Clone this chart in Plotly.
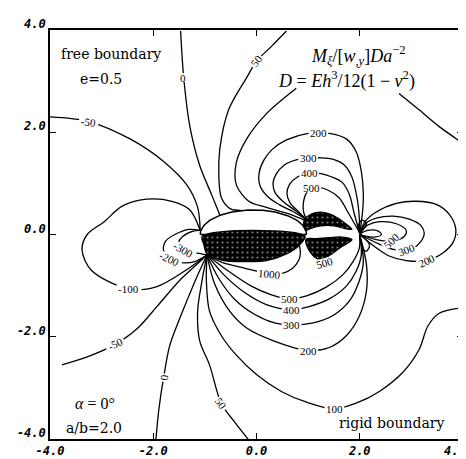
import numpy as np
import plotly.graph_objects as go

# ---------------- axes ----------------
TICK_VALS = [-4, -2, 0, 2, 4]
X_TICK_TEXT = ["-4.0", "-2.0", "0.0", "2.0", ""]
Y_TICK_TEXT = ["-4.0", "-2.0", "0.0", "2.0", "4.0"]
X_LAST_TICK = (4, "4.0")

# ---------------- hole geometry (a/b = 2) ----------------
ELLIPSE_CX = -0.06
ELLIPSE_A = 1.03
ELLIPSE_B = 0.48

L_M50_UP = [(-4.02, 2.30), (-3.25, 2.21), (-2.45, 1.87), (-1.80, 1.43), (-1.35, 0.97), (-1.14, 0.53), (-1.09, 0.08)]
L_0_UP = [(-1.47, 3.98), (-1.41, 3.07), (-1.29, 2.11), (-1.10, 1.35), (-0.87, 0.78), (-0.71, 0.38)]
L_50_UP = [(0.58, 3.98), (0.29, 3.68), (0.0, 3.39), (-0.19, 3.07), (-0.54, 2.44), (-0.71, 1.68), (-0.73, 1.16),
           (-0.68, 0.72), (-0.50, 0.50), (-0.30, 0.47)]
L_100_UP_A = [(0.77, 2.86), (0.19, 2.36), (-0.19, 1.87), (-0.39, 1.41), (-0.39, 0.97), (-0.15, 0.65), (0.19, 0.53),
              (0.64, 0.40), (0.93, 0.28)]
L_100_UP_B = [(2.76, 2.76), (3.15, 2.44), (3.54, 2.11), (4.02, 1.77)]
L_200_UP = [(0.97, 0.29), (0.72, 0.44), (0.45, 0.58), (0.22, 0.74), (0.07, 0.95), (0.05, 1.20), (0.14, 1.45),
            (0.30, 1.66), (0.58, 1.85), (1.0, 1.98), (1.41, 1.98), (1.74, 1.87), (1.93, 1.62), (2.03, 1.24),
            (2.07, 0.78), (2.05, 0.40), (2.0, 0.03)]
L_300_UP = [(0.97, 0.29), (0.75, 0.47), (0.52, 0.64), (0.36, 0.82), (0.32, 1.0), (0.38, 1.18), (0.54, 1.36),
            (0.77, 1.46), (1.0, 1.49), (1.25, 1.50), (1.49, 1.47), (1.70, 1.36), (1.85, 1.12), (1.95, 0.70),
            (1.99, 0.35), (2.0, 0.03)]
L_400_UP = [(0.97, 0.29), (0.80, 0.46), (0.65, 0.62), (0.59, 0.80), (0.64, 0.98), (0.80, 1.13), (1.02, 1.20),
            (1.25, 1.19), (1.45, 1.13), (1.66, 1.02), (1.80, 0.78), (1.89, 0.42), (2.0, 0.03)]
L_500_UP = [(0.97, 0.29), (0.91, 0.45), (0.91, 0.64), (0.96, 0.80), (1.06, 0.91), (1.20, 0.92), (1.38, 0.87),
            (1.60, 0.72), (1.78, 0.42), (2.0, 0.03)]

L_200_R = [(2.0, 0.02), (2.10, 0.25), (2.32, 0.44), (2.71, 0.61), (3.09, 0.65), (3.48, 0.59), (3.73, 0.40),
           (3.86, 0.11), (3.81, -0.15), (3.61, -0.36), (3.29, -0.51), (2.90, -0.51), (2.57, -0.42),
           (2.28, -0.23), (2.0, 0.0)]
L_300_R = [(2.0, 0.02), (2.12, 0.22), (2.32, 0.32), (2.65, 0.36), (2.96, 0.30), (3.19, 0.17), (3.25, 0.02),
           (3.19, -0.13), (3.03, -0.27), (2.90, -0.30), (2.65, -0.29), (2.38, -0.19), (2.0, 0.0)]
L_500_R = [(2.0, 0.02), (2.15, 0.18), (2.38, 0.25), (2.71, 0.21), (2.90, 0.08), (2.86, -0.04), (2.61, -0.13),
           (2.32, -0.10), (2.0, 0.0)]
L_1000_R = [(2.0, 0.01), (2.15, 0.08), (2.35, 0.07), (2.42, 0.0), (2.30, -0.05), (2.10, -0.03), (2.0, 0.0)]
L_1000_RU = [(2.0, 0.03), (1.97, 0.16), (2.04, 0.28), (2.13, 0.22), (2.0, 0.03)]
L_1000_RD = [(2.0, 0.0), (2.03, -0.19), (2.12, -0.33), (2.19, -0.21), (2.0, 0.0)]

L_M100 = [(-1.09, 0.08), (-1.29, 0.48), (-1.64, 0.65), (-2.13, 0.69), (-2.61, 0.55), (-2.95, 0.25),
          (-3.28, 0.0), (-3.38, -0.30), (-3.20, -0.70), (-2.47, -1.07), (-1.93, -1.02), (-1.40, -0.72),
          (-0.96, -0.40)]
L_M200 = [(-1.09, 0.08), (-1.31, 0.10), (-1.58, 0.0), (-1.76, -0.13), (-1.80, -0.32), (-1.68, -0.48),
          (-1.45, -0.55), (-1.20, -0.53), (-0.96, -0.40)]
L_M300 = [(-1.09, 0.08), (-1.24, 0.06), (-1.43, -0.04), (-1.51, -0.17), (-1.41, -0.30), (-1.16, -0.36),
          (-0.96, -0.40)]

L_M50_LO = [(-0.96, -0.40), (-1.26, -0.68), (-1.49, -0.90), (-1.93, -1.41), (-2.32, -1.85), (-2.74, -2.15),
            (-3.29, -2.40), (-3.77, -2.55)]
L_0_LO = [(-0.96, -0.40), (-1.16, -0.84), (-1.35, -1.30), (-1.51, -1.70), (-1.68, -2.17), (-1.80, -2.80),
          (-1.89, -3.41), (-1.95, -4.02)]
L_50_LO = [(-0.96, -0.40), (-1.06, -0.93), (-1.14, -1.50), (-1.10, -2.08), (-0.91, -2.55), (-0.68, -3.31),
           (-0.43, -3.66), (-0.15, -4.02)]
L_100_LO = [(-0.96, -0.40), (-0.97, -0.93), (-0.91, -1.50), (-0.68, -1.98), (-0.39, -2.36), (0.0, -2.74),
            (0.48, -3.07), (0.97, -3.28), (1.51, -3.41), (1.93, -3.30), (2.38, -3.07), (2.84, -2.69),
            (3.15, -2.25), (3.32, -1.79), (3.54, -1.54), (4.02, -1.43)]
L_200_LO = [(-0.96, -0.40), (-0.81, -0.97), (-0.52, -1.50), (-0.19, -1.83), (0.33, -2.08), (1.0, -2.27),
            (1.41, -2.21), (1.74, -1.98), (1.99, -1.60), (2.13, -1.10), (2.13, -0.59), (2.0, 0.0)]
L_300_LO = [(-0.96, -0.40), (-0.73, -0.86), (-0.43, -1.26), (-0.04, -1.56), (0.35, -1.73), (0.68, -1.77),
            (1.10, -1.73), (1.49, -1.58), (1.80, -1.30), (1.99, -0.91), (2.07, -0.53), (2.0, 0.0)]
L_400_LO = [(-0.96, -0.40), (-0.64, -0.78), (-0.25, -1.12), (0.19, -1.37), (0.68, -1.47), (1.02, -1.41),
            (1.41, -1.26), (1.74, -1.01), (1.93, -0.72), (2.03, -0.40), (2.0, 0.0)]
L_500_LO = [(-0.96, -0.40), (-0.54, -0.72), (-0.10, -1.01), (0.29, -1.18), (0.64, -1.26), (0.97, -1.20),
            (1.35, -1.03), (1.68, -0.78), (1.87, -0.53), (1.99, -0.27), (2.0, 0.0)]
L_1000_LO = [(-0.96, -0.40), (-0.68, -0.54), (-0.39, -0.62), (-0.06, -0.70), (0.25, -0.78), (0.50, -0.76),
             (0.70, -0.66), (0.82, -0.50), (0.85, -0.36), (0.83, -0.21)]

CONTOUR_LINES = [
    (-50, L_M50_UP), (0, L_0_UP), (50, L_50_UP), (100, L_100_UP_A), (100, L_100_UP_B),
    (200, L_200_UP), (300, L_300_UP), (400, L_400_UP), (500, L_500_UP),
    (200, L_200_R), (300, L_300_R), (500, L_500_R), (1000, L_1000_R), (1000, L_1000_RU), (1000, L_1000_RD),
    (-100, L_M100), (-200, L_M200), (-300, L_M300),
    (-50, L_M50_LO), (0, L_0_LO), (50, L_50_LO), (100, L_100_LO), (200, L_200_LO),
    (300, L_300_LO), (400, L_400_LO), (500, L_500_LO), (1000, L_1000_LO),
]

# regions where the contour lines crowd into solid black
DENSE_HOLE = [(-1.05, -0.03), (-1.02, -0.20), (-0.96, -0.38), (-0.68, -0.50), (-0.19, -0.53), (0.19, -0.51),
              (0.58, -0.38), (0.82, -0.22), (0.94, -0.03)]
DENSE_UPPER = [(0.92, 0.27), (1.06, 0.40), (1.25, 0.44), (1.45, 0.39), (1.65, 0.27), (1.85, 0.10), (1.70, 0.12),
               (1.50, 0.17), (1.25, 0.17), (1.05, 0.12), (0.95, 0.08)]
DENSE_LOWER = [(0.95, -0.12), (1.05, -0.36), (1.20, -0.48), (1.40, -0.42), (1.62, -0.26), (1.85, -0.10),
               (1.65, -0.05), (1.40, -0.06), (1.15, -0.08), (0.98, -0.08)]

# contour labels: text, x, y, angle (deg, clockwise)
LABELS = [
    ("0", -1.43, 3.07, 0), ("-50", -3.25, 2.21, 8), ("50", 0.0, 3.39, -52),
    ("-100", -2.47, -1.07, 0), ("-200", -1.68, -0.48, 25), ("-300", -1.41, -0.30, 30),
    ("-50", -2.74, -2.15, -25), ("0", -1.80, -2.80, -80), ("50", -0.68, -3.31, 55),
    ("100", 1.51, -3.41, 0), ("200", 1.0, -2.27, 0), ("300", 0.68, -1.77, 0),
    ("400", 0.68, -1.47, 0), ("500", 0.64, -1.26, 0), ("1000", 0.25, -0.78, 5),
    ("500", 1.31, -0.55, -15), ("200", 1.2, 1.98, 0), ("300", 1.0, 1.49, 0),
    ("400", 1.02, 1.20, 0), ("500", 1.06, 0.91, 0), ("500", 2.61, -0.13, -45),
    ("300", 2.90, -0.30, -20), ("200", 3.29, -0.51, -25),
]

W, H = 466, 459
MARGIN = dict(l=42, r=9, t=13, b=27)
PX_X = (W - MARGIN["l"] - MARGIN["r"]) / 8.0
PX_Y = (H - MARGIN["t"] - MARGIN["b"]) / 8.0

fig = go.Figure()

LINE = dict(color="black", width=1.3, shape="spline", smoothing=0.9)

for level, pts in CONTOUR_LINES:
    xs, ys = zip(*pts)
    fig.add_trace(go.Scatter(x=xs, y=ys, mode="lines", line=LINE, hoverinfo="skip",
                             name=str(level), showlegend=False))

pattern = dict(shape=".", bgcolor="black", fgcolor="white", size=5, solidity=0.15)
for region in (DENSE_HOLE, DENSE_UPPER, DENSE_LOWER):
    xs, ys = zip(*(region + [region[0]]))
    fig.add_trace(go.Scatter(x=xs, y=ys, mode="lines", fill="toself", fillcolor="black",
                             fillpattern=pattern, line=dict(color="black", width=1.2, shape="spline"),
                             hoverinfo="skip", showlegend=False))

# elliptical hole: upper arc and major axis
t = np.linspace(0, np.pi, 80)
fig.add_trace(go.Scatter(x=ELLIPSE_CX + ELLIPSE_A * np.cos(t), y=ELLIPSE_B * np.sin(t), mode="lines",
                         line=dict(color="black", width=1.5), hoverinfo="skip", showlegend=False))
fig.add_trace(go.Scatter(x=[ELLIPSE_CX - ELLIPSE_A, ELLIPSE_CX + ELLIPSE_A], y=[0, 0], mode="lines",
                         line=dict(color="black", width=1.5), hoverinfo="skip", showlegend=False))

# white gaps behind contour labels (rotated boxes as shapes)
shapes = []
annotations = []
LABEL_FONT = dict(family="Liberation Serif", size=11, color="black")
for txt, x, y, ang in LABELS:
    w = 5.6 * len(txt) + 3
    h = 9
    th = np.deg2rad(ang)
    pts = []
    for px, py in [(-w / 2, -h / 2), (w / 2, -h / 2), (w / 2, h / 2), (-w / 2, h / 2)]:
        rx = px * np.cos(th) - py * np.sin(th)
        ry = px * np.sin(th) + py * np.cos(th)
        pts.append((x + rx / PX_X, y - ry / PX_Y))
    path = "M " + " L ".join(f"{a:.4f},{b:.4f}" for a, b in pts) + " Z"
    shapes.append(dict(type="path", path=path, xref="x", yref="y", fillcolor="white",
                       line=dict(width=0), layer="above"))
    annotations.append(dict(x=x, y=y, text=txt, showarrow=False, textangle=ang, font=LABEL_FONT))

SERIF = "DejaVu Serif"
MATH = "Liberation Serif"
texts = [
    ("free boundary", -2.82, 3.54, SERIF, 14),
    ("e=0.5", -3.01, 3.05, SERIF, 14),
    ("<i>α</i> = 0°", -3.12, -3.31, MATH, 16),
    ("a/b=2.0", -3.15, -3.79, SERIF, 14),
    ("rigid boundary", 2.61, -3.68, SERIF, 14),
    ("<i>M</i><sub><i>ξ</i></sub>/[<i>w</i><sub>,<i>y</i></sub>]<i>Da</i><sup>−2</sup>", 1.97, 3.50, MATH, 18),
    ("<i>D</i> = <i>Eh</i><sup>3</sup>/12(1 − <i>ν</i><sup>2</sup>)", 1.74, 3.03, MATH, 18),
]
for txt, x, y, fam, sz in texts:
    annotations.append(dict(x=x, y=y, text=txt, showarrow=False,
                            font=dict(family=fam, size=sz, color="black")))

TICK_FONT = dict(family="DejaVu Sans Mono", size=12, color="black", style="italic", weight="bold")
annotations.append(dict(x=X_LAST_TICK[0], xref="x", y=0, yref="paper", text=X_LAST_TICK[1], showarrow=False,
                        xanchor="center", yanchor="top", xshift=-8, yshift=-3, font=TICK_FONT))

axis_common = dict(range=[-4, 4], tickvals=TICK_VALS, ticks="inside", ticklen=6,
                   tickwidth=1.2, tickcolor="black", showline=True, linecolor="black", linewidth=1.6,
                   mirror="ticks", showgrid=False, zeroline=False, tickfont=TICK_FONT)

fig.update_layout(
    width=W, height=H, autosize=False,
    margin=MARGIN,
    paper_bgcolor="white", plot_bgcolor="white",
    xaxis=dict(axis_common, ticktext=X_TICK_TEXT),
    yaxis=dict(axis_common, ticktext=Y_TICK_TEXT, ticklabelshift=-6),
    annotations=annotations, shapes=shapes, showlegend=False,
)

fig.write_html("out.html")
